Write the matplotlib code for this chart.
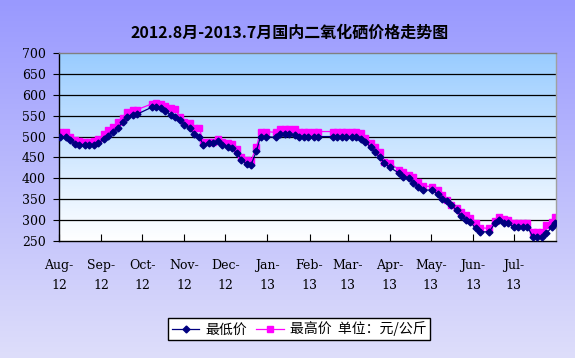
import numpy as np
import pandas as pd
import matplotlib
matplotlib.use("Agg")
import matplotlib.pyplot as plt
from matplotlib.colors import LinearSegmentedColormap

plt.rcParams['font.family'] = ['Noto Sans CJK SC', 'DejaVu Sans']

# ---- data ----
dates = ["2012-08-02", "2012-08-06", "2012-08-09", "2012-08-13", "2012-08-16", "2012-08-20",
         "2012-08-23", "2012-08-27", "2012-08-30", "2012-09-03", "2012-09-06", "2012-09-10",
         "2012-09-13", "2012-09-17", "2012-09-20", "2012-09-24", "2012-09-27", "2012-10-08",
         "2012-10-11", "2012-10-15", "2012-10-18", "2012-10-22", "2012-10-25", "2012-10-29",
         "2012-11-01", "2012-11-05", "2012-11-08", "2012-11-12", "2012-11-15", "2012-11-19",
         "2012-11-22", "2012-11-26", "2012-11-29", "2012-12-03", "2012-12-06", "2012-12-10",
         "2012-12-13", "2012-12-17", "2012-12-20", "2012-12-24", "2012-12-27", "2012-12-31",
         "2013-01-07", "2013-01-10", "2013-01-14", "2013-01-17", "2013-01-21", "2013-01-24",
         "2013-01-28", "2013-01-31", "2013-02-04", "2013-02-07", "2013-02-18", "2013-02-21",
         "2013-02-25", "2013-02-28", "2013-03-04", "2013-03-07", "2013-03-11", "2013-03-14",
         "2013-03-18", "2013-03-21", "2013-03-25", "2013-03-28", "2013-04-01", "2013-04-08",
         "2013-04-11", "2013-04-15", "2013-04-18", "2013-04-22", "2013-04-25", "2013-05-02",
         "2013-05-06", "2013-05-09", "2013-05-13", "2013-05-16", "2013-05-20", "2013-05-23",
         "2013-05-27", "2013-05-30", "2013-06-03", "2013-06-06", "2013-06-13", "2013-06-17",
         "2013-06-20", "2013-06-24", "2013-06-27", "2013-07-01", "2013-07-04", "2013-07-08",
         "2013-07-11", "2013-07-15", "2013-07-18", "2013-07-22", "2013-07-25", "2013-07-29",
         "2013-07-31"]

high = [510, 510, 500, 492, 490, 488, 488, 490, 495, 505, 515, 522,
        535, 545, 558, 564, 564, 578, 580, 578, 572, 568, 565, 548,
        536, 532, 520, 520, 488, 486, 486, 494, 488, 484, 482, 470,
        450, 445, 442, 475, 512, 512, 510, 517, 517, 517, 517, 512,
        512, 512, 512, 512, 512, 512, 512, 512, 512, 512, 508, 496,
        484, 474, 462, 440, 436, 420, 414, 408, 404, 392, 382, 380,
        372, 360, 348, 336, 328, 320, 312, 306, 292, 282, 280, 298,
        308, 302, 300, 292, 292, 292, 292, 272, 272, 272, 288, 296,
        308]

low = [500, 498, 492, 482, 480, 480, 480, 480, 485, 494, 502, 512,
       520, 536, 548, 552, 553, 570, 570, 568, 562, 552, 548, 540,
       528, 520, 505, 500, 480, 484, 484, 490, 480, 476, 472, 460,
       445, 434, 432, 465, 500, 500, 498, 506, 506, 506, 504, 500,
       500, 500, 500, 500, 500, 500, 500, 500, 500, 500, 494, 486,
       475, 462, 450, 436, 426, 412, 404, 400, 390, 380, 372, 372,
       362, 350, 346, 336, 324, 310, 300, 296, 280, 272, 272, 292,
       300, 292, 292, 284, 284, 284, 284, 260, 260, 260, 268, 284,
       292]

x_start, x_end = "2012-08-01", "2013-08-01"
y_ticks = [250, 300, 350, 400, 450, 500, 550, 600, 650, 700]
month_labels = ["Aug-\n12", "Sep-\n12", "Oct-\n12", "Nov-\n12", "Dec-\n12", "Jan-\n13",
                "Feb-\n13", "Mar-\n13", "Apr-\n13", "May-\n13", "Jun-\n13", "Jul-\n13"]
title = "2012.8月-2013.7月国内二氧化硒价格走势图"
label_low = "最低价"
label_high = "最高价  单位：元/公斤"

x = pd.to_datetime(dates)
month_ticks = pd.date_range(x_start, periods=len(month_labels), freq='MS')

# ---- figure ----
W, H = 575, 358
fig = plt.figure(figsize=(W / 100, H / 100), dpi=100)

# figure background gradient (dark periwinkle at top -> pale lavender at bottom)
bg = fig.add_axes([0, 0, 1, 1], zorder=0)
bg.axis('off')
cm_fig = LinearSegmentedColormap.from_list('f', ['#9999ff', '#dedefa'])
bg.imshow(np.linspace(0, 1, 256).reshape(-1, 1), cmap=cm_fig, aspect='auto',
          extent=[0, 1, 0, 1], origin='upper', interpolation='bicubic')

left, right, top, bottom = 59, 556, 53, 241
ax = fig.add_axes([left / W, 1 - bottom / H, (right - left) / W, (bottom - top) / H], zorder=1)
ax.patch.set_alpha(0)
cm_ax = LinearSegmentedColormap.from_list('a', ['#99ccff', '#ffffff'])
ax.imshow(np.linspace(0, 1, 256).reshape(-1, 1), cmap=cm_ax, aspect='auto',
          extent=[0, 1, 0, 1], origin='upper', transform=ax.transAxes, zorder=0,
          interpolation='bicubic')

for yv in y_ticks[1:-1]:
    ax.axhline(yv, color='black', lw=0.9, zorder=1)

ax.plot(x, low, color='#000080', lw=0.9, marker='D', ms=3.5, mec='#000080',
        mfc='#000080', label=label_low, zorder=3)
ax.plot(x, high, color='#ff00ff', lw=0.9, marker='s', ms=4.0, mec='#ff00ff',
        mfc='#ff00ff', label=label_high, zorder=2)

ax.set_xlim(pd.Timestamp(x_start), pd.Timestamp(x_end))
ax.set_ylim(250, 700)
ax.set_yticks(y_ticks)
ax.set_yticklabels([str(v) for v in y_ticks], fontfamily='DejaVu Serif', fontsize=9)
ax.set_xticks(month_ticks)
ax.set_xticklabels(month_labels, fontfamily='DejaVu Serif', fontsize=9,
                   linespacing=1.65, multialignment='center')

ax.tick_params(axis='y', direction='out', length=4, width=0.8, pad=5.5, colors='black')
ax.tick_params(axis='x', direction='in', length=5, width=0.8, pad=13, colors='black')

ax.spines['left'].set_color('black')
ax.spines['bottom'].set_color('black')
ax.spines['top'].set_color('#808080')
ax.spines['right'].set_color('#a0a0a0')
for s in ax.spines.values():
    s.set_linewidth(1.0)

fig.text(290 / W, 1 - 33 / H, title, ha='center', va='center', fontsize=11.5,
         fontweight='bold', color='black')

leg = fig.legend(loc='center', bbox_to_anchor=(299 / W, 1 - 329 / H), ncol=2,
                 frameon=True, fancybox=False, edgecolor='black', facecolor='white',
                 fontsize=10, handlelength=2.0, handletextpad=0.4, columnspacing=0.7,
                 borderpad=0.25, framealpha=1)
leg.get_frame().set_linewidth(1.0)

fig.savefig('out.png', dpi=100)
